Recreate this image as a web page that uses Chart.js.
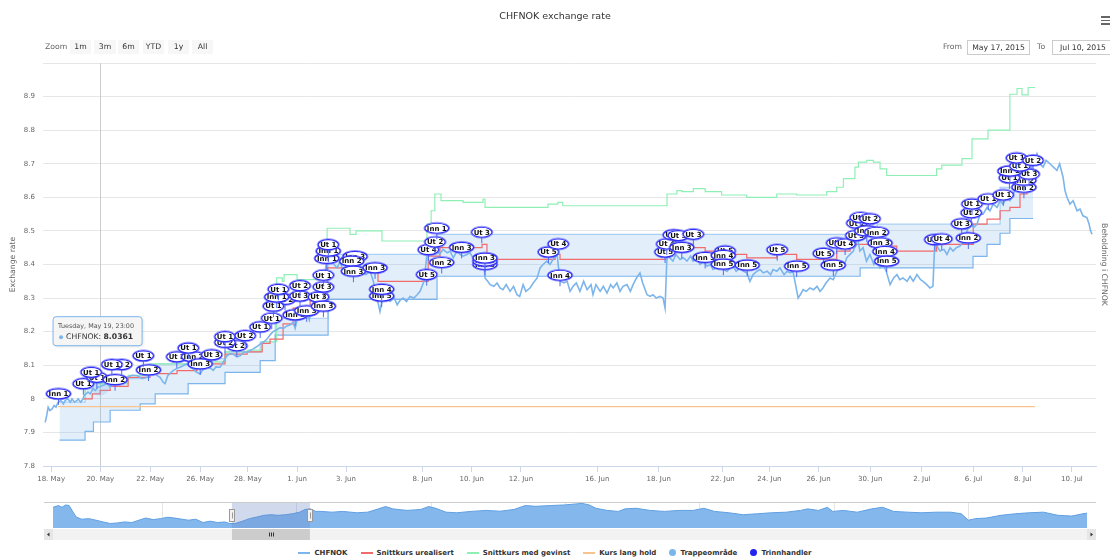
<!DOCTYPE html>
<html>
<head>
<meta charset="utf-8">
<title>CHFNOK exchange rate</title>
<script src="https://cdn.jsdelivr.net/npm/chart.js@4.4.1/dist/chart.umd.min.js"></script>
<style>
  body { margin: 0; background: #fff; font-family: "Lucida Grande", "Lucida Sans Unicode", "DejaVu Sans", sans-serif; }
  #wrap { position: relative; width: 1110px; height: 560px; overflow: hidden; }
  #main { position: absolute; left: 0; top: 0; }
  #nav { position: absolute; left: 0; top: 500px; }
  .txt { position: absolute; font-size: 7.7px; color: #666; line-height: 14px; }
  .btn { position: absolute; top: 40px; height: 14px; line-height: 14px; background: #f7f7f7; color: #333; text-align: center; font-size: 7.7px; }
  .inp { position: absolute; top: 40px; height: 13px; line-height: 13px; border: 1px solid #ccc; color: #333; font-size: 7.7px; text-align: center; background: #fff; }
  #menu { position: absolute; left: 1101px; top: 16px; width: 9px; }
  #menu div { height: 1.6px; background: #666; margin-bottom: 2px; }
  #legend { position: absolute; left: 0; top: 546px; width: 1110px; height: 13px; display: flex; justify-content: center; align-items: center; font-size: 7px; font-weight: bold; color: #333; }
  .li { display: flex; align-items: center; margin: 0 6.5px; }
  .sym { display: inline-block; width: 12px; height: 2px; margin-right: 4px; }
  .dot { display: inline-block; width: 7px; height: 7px; border-radius: 50%; margin-right: 4px; }
</style>
</head>
<body>
<div id="wrap">
  <canvas id="main" width="1110" height="495"></canvas>
  <canvas id="nav" width="1110" height="45"></canvas>

  <div class="txt" style="left:45px; top:40px;">Zoom</div>
  <div class="btn" style="left:70px; width:21px;">1m</div>
  <div class="btn" style="left:94px; width:22px;">3m</div>
  <div class="btn" style="left:118px; width:21px;">6m</div>
  <div class="btn" style="left:143px; width:21px;">YTD</div>
  <div class="btn" style="left:168px; width:21px;">1y</div>
  <div class="btn" style="left:192px; width:21px;">All</div>

  <div class="txt" style="left:943px; top:40px;">From</div>
  <div class="inp" style="left:967px; width:61px;">May 17, 2015</div>
  <div class="txt" style="left:1037px; top:40px;">To</div>
  <div class="inp" style="left:1052px; width:60px;">Jul 10, 2015</div>

  <div id="menu"><div></div><div></div><div></div></div>

  <div id="legend">
    <div class="li"><span class="sym" style="background:#7cb5ec"></span>CHFNOK</div>
    <div class="li"><span class="sym" style="background:#f26b6b"></span>Snittkurs urealisert</div>
    <div class="li"><span class="sym" style="background:#8ff0b6"></span>Snittkurs med gevinst</div>
    <div class="li"><span class="sym" style="background:#f9c38f"></span>Kurs lang hold</div>
    <div class="li"><span class="dot" style="background:#7cb5ec"></span>Trappeområde</div>
    <div class="li"><span class="dot" style="background:#2323f0"></span>Trinnhandler</div>
  </div>
</div>

<script>
// x = handelsdag-indeks, 0 = 18. mai 2015 (ordinal akse, helger hoppet over)
const xTickVals = [0, 2, 4.03, 6.06, 8, 10, 11.99, 15.1, 17.1, 19.1, 22.2, 24.7, 27.3, 29.2, 31.2, 33.3, 35.4, 37.5, 39.5, 41.5];
const xTickLabels = ['18. May', '20. May', '22. May', '26. May', '28. May', '1. Jun', '3. Jun', '8. Jun', '10. Jun', '12. Jun',
  '16. Jun', '18. Jun', '22. Jun', '24. Jun', '26. Jun', '30. Jun', '2. Jul', '6. Jul', '8. Jul', '10. Jul'];
const yTickVals = [7.8, 7.9, 8, 8.1, 8.2, 8.3, 8.4, 8.5, 8.6, 8.7, 8.8, 8.9, 9];
const yTickLabels = ['7.8', '7.9', '8', '8.1', '8.2', '8.3', '8.4', '8.5', '8.6', '8.7', '8.8', '8.9', ''];

// CHFNOK
const chfX = [-0.24, -0.18, -0.12, -0.05, 0.04, 0.12, 0.20, 0.28, 0.40, 0.50, 0.57, 0.68, 0.78, 0.85, 0.95, 1.05, 1.10, 1.20, 1.30, 1.34,
  1.42, 1.50, 1.59, 1.70, 1.80, 1.91, 1.99, 2.10, 2.28, 2.40, 2.50, 2.68, 2.85, 3.09, 3.30, 3.50, 3.70, 3.94, 4.15, 4.30,
  4.43, 4.55, 4.63, 4.75, 4.96, 5.10, 5.24, 5.40, 5.53, 5.65, 5.77, 5.90, 6.06, 6.20, 6.34, 6.50, 6.59, 6.70, 6.87, 7.00,
  7.15, 7.28, 7.40, 7.55, 7.68, 7.85, 7.97, 8.10, 8.21, 8.35, 8.50, 8.65, 8.78, 8.90, 9.02, 9.15, 9.31, 9.45, 9.59, 9.70,
  9.84, 9.92, 10.00, 10.12, 10.25, 10.41, 10.50, 10.55, 10.65, 10.80, 10.93, 11.05, 11.18, 11.25, 11.34, 11.50, 11.63, 11.75, 11.87, 12.00,
  12.15, 12.30, 12.44, 12.55, 12.68, 12.80, 12.97, 13.10, 13.25, 13.37, 13.50, 13.65, 13.78, 13.95, 14.07, 14.20, 14.31, 14.45, 14.59, 14.75,
  14.88, 15.00, 15.16, 15.28, 15.41, 15.55, 15.69, 15.80, 15.93, 16.10, 16.22, 16.35, 16.50, 16.62, 16.75, 16.90, 17.03, 17.15, 17.32, 17.45,
  17.56, 17.64, 17.75, 17.85, 18.00, 18.13, 18.25, 18.37, 18.50, 18.66, 18.80, 18.94, 19.05, 19.19, 19.30, 19.47, 19.60, 19.76, 19.88, 20.00,
  20.15, 20.28, 20.45, 20.57, 20.69, 20.85, 20.98, 21.10, 21.22, 21.35, 21.50, 21.65, 21.79, 21.95, 22.03, 22.15, 22.32, 22.45, 22.60, 22.75,
  22.85, 23.00, 23.13, 23.25, 23.41, 23.55, 23.66, 23.80, 23.94, 24.05, 24.23, 24.35, 24.47, 24.60, 24.76, 24.88, 24.96, 25.04, 25.15, 25.28,
  25.40, 25.57, 25.70, 25.85, 26.00, 26.10, 26.25, 26.38, 26.52, 26.67, 26.80, 26.91, 27.05, 27.20, 27.35, 27.48, 27.60, 27.72, 27.85, 28.01,
  28.15, 28.29, 28.41, 28.54, 28.70, 28.82, 28.95, 29.11, 29.25, 29.35, 29.50, 29.63, 29.80, 29.92, 30.05, 30.16, 30.37, 30.50, 30.57, 30.70,
  30.85, 31.00, 31.14, 31.26, 31.38, 31.50, 31.67, 31.80, 31.95, 32.10, 32.20, 32.35, 32.48, 32.62, 32.76, 32.88, 33.01, 33.15, 33.29, 33.45,
  33.58, 33.70, 33.82, 33.95, 34.11, 34.25, 34.39, 34.50, 34.63, 34.80, 34.92, 35.05, 35.20, 35.35, 35.45, 35.60, 35.73, 35.85, 35.93, 36.05,
  36.14, 36.30, 36.42, 36.55, 36.67, 36.80, 36.95, 37.10, 37.24, 37.36, 37.50, 37.64, 37.77, 37.89, 38.05, 38.17, 38.30, 38.46, 38.58, 38.70,
  38.85, 38.98, 39.10, 39.27, 39.40, 39.51, 39.65, 39.80, 39.92, 40.08, 40.20, 40.33, 40.45, 40.61, 40.75, 40.89, 41.00, 41.14, 41.22, 41.30,
  41.42, 41.55, 41.71, 41.83, 41.95, 42.11, 42.20, 42.26, 42.32];
const chfVal = [7.93, 7.95, 7.975, 7.965, 7.97, 7.98, 7.975, 7.99, 7.995, 7.985, 7.995, 8.0, 7.99, 8.0, 7.99, 7.995, 8.0, 7.99, 8.0, 8.01,
  8.015, 8.02, 8.015, 8.03, 8.025, 8.035, 8.0361, 8.04, 8.045, 8.035, 8.05, 8.06, 8.055, 8.064, 8.07, 8.069, 8.06, 8.064, 8.079, 8.07,
  8.064, 8.05, 8.045, 8.07, 8.084, 8.09, 8.094, 8.1, 8.104, 8.095, 8.089, 8.08, 8.074, 8.09, 8.094, 8.09, 8.085, 8.095, 8.094, 8.11,
  8.128, 8.135, 8.133, 8.125, 8.128, 8.14, 8.138, 8.145, 8.148, 8.155, 8.163, 8.17, 8.178, 8.19, 8.2, 8.205, 8.212, 8.21, 8.217, 8.22,
  8.227, 8.21, 8.235, 8.242, 8.245, 8.252, 8.235, 8.265, 8.27, 8.28, 8.29, 8.33, 8.40, 8.43, 8.41, 8.40, 8.39, 8.41, 8.38, 8.395,
  8.40, 8.385, 8.38, 8.395, 8.38, 8.37, 8.38, 8.35, 8.30, 8.26, 8.31, 8.30, 8.29, 8.30, 8.28, 8.295, 8.30, 8.29, 8.305, 8.30,
  8.31, 8.32, 8.35, 8.43, 8.44, 8.43, 8.44, 8.43, 8.445, 8.435, 8.44, 8.42, 8.44, 8.43, 8.425, 8.43, 8.435, 8.42, 8.43, 8.42,
  8.43, 8.36, 8.35, 8.34, 8.335, 8.345, 8.33, 8.325, 8.34, 8.32, 8.335, 8.31, 8.305, 8.34, 8.32, 8.33, 8.345, 8.36, 8.39, 8.40,
  8.41, 8.40, 8.42, 8.43, 8.35, 8.345, 8.35, 8.32, 8.335, 8.345, 8.32, 8.35, 8.325, 8.34, 8.31, 8.34, 8.32, 8.335, 8.315, 8.34,
  8.33, 8.345, 8.32, 8.335, 8.34, 8.32, 8.34, 8.36, 8.375, 8.345, 8.31, 8.305, 8.31, 8.30, 8.305, 8.30, 8.27, 8.43, 8.42, 8.41,
  8.43, 8.415, 8.42, 8.41, 8.425, 8.41, 8.42, 8.40, 8.41, 8.395, 8.40, 8.385, 8.39, 8.40, 8.385, 8.38, 8.39, 8.395, 8.38, 8.39,
  8.38, 8.375, 8.35, 8.37, 8.38, 8.385, 8.375, 8.38, 8.37, 8.385, 8.38, 8.39, 8.37, 8.38, 8.375, 8.38, 8.30, 8.315, 8.325, 8.32,
  8.33, 8.325, 8.335, 8.32, 8.33, 8.345, 8.36, 8.355, 8.38, 8.40, 8.39, 8.42, 8.43, 8.44, 8.49, 8.44, 8.45, 8.41, 8.43, 8.40,
  8.41, 8.39, 8.40, 8.38, 8.34, 8.36, 8.37, 8.355, 8.36, 8.35, 8.365, 8.35, 8.37, 8.355, 8.35, 8.34, 8.33, 8.335, 8.47, 8.45,
  8.44, 8.445, 8.43, 8.45, 8.44, 8.45, 8.455, 8.47, 8.50, 8.53, 8.51, 8.52, 8.55, 8.55, 8.57, 8.56, 8.58, 8.57, 8.59, 8.58,
  8.60, 8.59, 8.61, 8.63, 8.62, 8.65, 8.64, 8.67, 8.70, 8.73, 8.70, 8.69, 8.71, 8.70, 8.69, 8.68, 8.70, 8.66, 8.62, 8.60,
  8.58, 8.59, 8.56, 8.565, 8.545, 8.54, 8.52, 8.50, 8.49];

// Snittkurs urealisert (trapp)
const redX = [1.30, 1.67, 1.99, 2.40, 3.13, 4.02, 5.12, 5.93, 7.07, 7.97, 8.58, 8.90, 9.43, 9.84, 10.53, 11.22, 13.29, 15.33, 15.81, 17.52,
  17.72, 20.49, 20.69, 25.04, 26.11, 26.59, 27.26, 28.28, 29.50, 30.31, 31.94, 32.48, 32.68, 33.29, 34.38, 36.00, 37.49, 38.05, 38.58, 38.98,
  39.39, 39.67, 40.00];
const redVal = [8.00, 8.015, 8.025, 8.037, 8.064, 8.075, 8.084, 8.104, 8.133, 8.14, 8.165, 8.178, 8.223, 8.27, 8.30, 8.39, 8.35, 8.425, 8.45, 8.46,
  8.415, 8.43, 8.415, 8.46, 8.45, 8.44, 8.43, 8.42, 8.43, 8.415, 8.44, 8.45, 8.46, 8.455, 8.44, 8.46, 8.52, 8.535, 8.56, 8.57,
  8.61, 8.655, 8.655];

// Snittkurs med gevinst (trapp)
const grnX = [1.30, 1.38, 2.10, 3.13, 4.02, 5.12, 5.93, 7.07, 7.97, 8.58, 9.17, 9.40, 9.47, 10.00, 11.22, 12.15, 12.40, 13.45, 15.28, 15.45,
  15.60, 15.85, 16.75, 17.56, 17.64, 20.20, 20.60, 20.80, 25.04, 25.44, 25.64, 26.11, 26.59, 27.26, 28.28, 29.50, 30.31, 31.53, 31.94, 32.21,
  32.68, 32.82, 33.16, 33.43, 33.70, 33.97, 36.00, 36.21, 37.03, 37.44, 38.09, 38.98, 39.27, 39.47, 39.72, 40.00];
const grnVal = [8.00, 8.045, 8.045, 8.07, 8.104, 8.104, 8.11, 8.14, 8.145, 8.17, 8.36, 8.35, 8.37, 8.355, 8.508, 8.49, 8.50, 8.47, 8.52, 8.56,
  8.61, 8.59, 8.585, 8.595, 8.57, 8.58, 8.585, 8.575, 8.61, 8.62, 8.617, 8.626, 8.617, 8.607, 8.60, 8.61, 8.607, 8.617, 8.63, 8.656,
  8.69, 8.705, 8.71, 8.705, 8.685, 8.665, 8.685, 8.696, 8.715, 8.774, 8.80, 8.907, 8.924, 8.905, 8.927, 8.927];

// Kurs lang hold
const holdX = [0.28, 40.0];
const holdVal = [7.977, 7.977];

// Trappeområde (nedre og øvre grense)
const trapX = [0.34, 1.38, 1.72, 2.40, 3.62, 4.23, 5.57, 7.07, 8.50, 9.11, 11.26, 15.69, 32.89, 33.58, 37.48, 38.05, 38.58, 38.98, 39.92];
const trapLow = [7.877, 7.903, 7.931, 7.966, 7.985, 8.015, 8.045, 8.079, 8.114, 8.19, 8.296, 8.365, 8.39, 8.39, 8.424, 8.46, 8.493, 8.537, 8.537];
const trapHigh = [7.99, 8.03, 8.05, 8.06, 8.08, 8.104, 8.12, 8.14, 8.17, 8.24, 8.43, 8.49, 8.49, 8.52, 8.52, 8.52, 8.63, 8.63, 8.63];

// Trinnhandler
const flagX = [0.30, 1.31, 1.86, 1.63, 2.60, 2.87, 2.47, 3.96, 3.75, 5.11, 5.79, 5.58, 6.06, 6.53, 7.55, 7.07, 7.07, 7.89, 8.50, 8.97,
  9.92, 10.39, 9.51, 9.04, 9.17, 9.24, 10.12, 10.12, 10.87, 11.07, 11.07, 11.07, 11.21, 11.27, 11.27, 12.36, 12.22, 12.29, 13.17, 13.44,
  13.44, 15.27, 15.88, 15.34, 15.61, 15.68, 16.69, 17.51, 17.64, 17.64, 17.64, 20.22, 20.62, 20.69, 24.96, 25.03, 25.30, 25.50, 25.64, 26.11,
  26.59, 27.40, 27.33, 27.33, 28.30, 29.52, 30.31, 31.40, 31.80, 31.94, 32.28, 32.72, 32.76, 32.90, 33.29, 33.16, 33.56, 33.70, 33.90, 33.97,
  35.93, 36.21, 37.29, 37.02, 37.41, 37.44, 38.10, 38.71, 39.55, 39.55, 38.96, 39.76, 38.98, 39.39, 39.25, 39.92];
const flagY = [8.015, 8.045, 8.064, 8.079, 8.057, 8.102, 8.102, 8.086, 8.128, 8.125, 8.125, 8.151, 8.104, 8.131, 8.158, 8.168, 8.185, 8.188, 8.214, 8.24,
  8.25, 8.262, 8.296, 8.276, 8.303, 8.326, 8.306, 8.337, 8.303, 8.276, 8.333, 8.368, 8.418, 8.44, 8.459, 8.424, 8.41, 8.38, 8.39, 8.306,
  8.326, 8.37, 8.406, 8.444, 8.467, 8.508, 8.451, 8.496, 8.40, 8.41, 8.419, 8.437, 8.461, 8.368, 8.437, 8.461, 8.488, 8.486, 8.451, 8.49,
  8.421, 8.44, 8.427, 8.401, 8.398, 8.444, 8.395, 8.433, 8.398, 8.464, 8.461, 8.486, 8.523, 8.54, 8.536, 8.50, 8.496, 8.464, 8.439, 8.41,
  8.474, 8.476, 8.479, 8.521, 8.554, 8.58, 8.595, 8.607, 8.63, 8.651, 8.658, 8.669, 8.678, 8.693, 8.717, 8.71];
const flagText = ['Inn 1', 'Ut 1', 'Ut 1', 'Ut 1', 'Inn 2', 'Ut 2', 'Ut 1', 'Inn 2', 'Ut 1', 'Ut 2', 'Inn 2', 'Ut 1', 'Inn 3', 'Ut 3', 'Ut 2', 'Ut 2', 'Ut 1', 'Ut 2', 'Ut 1', 'Ut 1',
  'Inn 3', 'Inn 3', 'Ut 2', 'Ut 1', 'Inn 1', 'Ut 1', 'Ut 3', 'Ut 2', 'Ut 3', 'Inn 3', 'Ut 3', 'Ut 1', 'Inn 1', 'Inn 1', 'Ut 1', 'Inn 3', 'Inn 2', 'Inn 3', 'Inn 3', 'Inn 5',
  'Inn 4', 'Ut 5', 'Inn 2', 'Ut 4', 'Ut 2', 'Inn 1', 'Inn 3', 'Ut 3', 'Inn 3', 'Inn 3', 'Inn 3', 'Ut 5', 'Ut 4', 'Inn 4', 'Ut 5', 'Ut 4', 'Ut 3', 'Ut 3', 'Inn 3', 'Ut 3',
  'Inn 3', 'Ut 5', 'Inn 4', 'Inn 5', 'Inn 5', 'Ut 5', 'Inn 5', 'Ut 5', 'Inn 5', 'Ut 5', 'Ut 4', 'Ut 3', 'Ut 2', 'Ut 1', 'Ut 2', 'Inn 2', 'Inn 2', 'Inn 3', 'Inn 4', 'Inn 5',
  'Ut 5', 'Ut 4', 'Inn 2', 'Ut 3', 'Ut 2', 'Ut 1', 'Ut 1', 'Ut 1', 'Inn 2', 'Inn 2', 'Ut 1', 'Ut 3', 'Inn 1', 'Ut 1', 'Ut 1', 'Ut 2'];

// tooltip-punktet
const tipX = 1.99;
const tipVal = 8.0361;
const tipHeader = 'Tuesday, May 19, 23:00';

// navigator: x = måneder fra 1. jan 2015
const navX = [0.55, 0.67, 0.75, 0.83, 0.91, 1.0, 1.07, 1.19, 1.35, 1.51, 1.67, 1.83, 1.99, 2.15, 2.31, 2.47, 2.62, 2.79, 2.95, 3.11,
  3.27, 3.43, 3.58, 3.74, 3.90, 4.06, 4.23, 4.39, 4.5, 4.62, 4.78, 4.94, 5.10, 5.26, 5.42, 5.58, 5.74, 5.90, 6.06, 6.18,
  6.30, 6.42, 6.54, 6.78, 7.02, 7.34, 7.58, 7.82, 7.98, 8.14, 8.46, 8.77, 8.94, 9.10, 9.33, 9.57, 9.89, 10.22, 10.54, 10.85,
  11.10, 11.34, 11.66, 11.97, 12.37, 12.53, 12.68, 12.93, 13.18, 13.33, 13.58, 13.89, 14.21, 14.53, 14.85, 15.09, 15.33, 15.65, 15.97, 16.29,
  16.60, 16.93, 17.25, 17.41, 17.65, 17.85, 17.97, 18.21, 18.52, 18.84, 19.08, 19.33, 19.64, 19.96, 20.28, 20.60, 20.84, 21.0, 21.16, 21.40,
  21.73, 22.05, 22.36, 22.68, 23.0, 23.31, 23.56, 23.65];
const navVal = [8.78, 8.87, 8.78, 8.9, 8.87, 8.53, 8.28, 8.17, 8.2, 8.12, 8.03, 7.95, 7.98, 8.03, 8.0, 8.12, 8.23, 8.15, 8.2, 8.27,
  8.23, 8.17, 8.12, 8.17, 8.0, 8.07, 8.0, 8.03, 7.95, 7.95, 8.07, 8.2, 8.28, 8.37, 8.4, 8.37, 8.4, 8.45, 8.53, 8.67,
  8.7, 8.57, 8.57, 8.53, 8.57, 8.5, 8.53, 8.7, 8.82, 8.7, 8.62, 8.67, 8.82, 8.73, 8.53, 8.5, 8.57, 8.62, 8.58, 8.67,
  8.87, 8.83, 8.87, 8.9, 8.98, 8.9, 8.73, 8.62, 8.57, 8.7, 8.73, 8.62, 8.57, 8.62, 8.62, 8.73, 8.57, 8.5, 8.4, 8.45,
  8.5, 8.53, 8.62, 8.7, 8.62, 8.78, 8.57, 8.62, 8.53, 8.7, 8.78, 8.57, 8.53, 8.5, 8.53, 8.53, 8.45, 8.12, 8.2, 8.23,
  8.37, 8.45, 8.5, 8.53, 8.37, 8.33, 8.45, 8.48];
const navTickVals = [3, 6, 9, 12, 15, 18, 21];
const navTickLabels = ["Apr '15", "Jul '15", "Oct '15", "Jan '16", "Apr '16", "Jul '16", "Oct '16"];
const selFrom = 4.548;
const selTo = 6.29;

Chart.defaults.font.family = '"Lucida Grande", "Lucida Sans Unicode", "DejaVu Sans", sans-serif';

function toPts(xs, ys) {
    return xs.map((x, i) => ({ x: x, y: ys[i] }));
}

function drawFlag(ctx, x, y, text) {
    ctx.font = 'bold 7px "DejaVu Sans"';
    const tw = ctx.measureText(text).width;
    const rx = tw / 2 + 2;
    const ry = 5;
    ctx.strokeStyle = '#4d6bef';
    ctx.lineWidth = 1;
    ctx.beginPath();
    ctx.moveTo(x, y + ry);
    ctx.lineTo(x, y + 11);
    ctx.stroke();
    ctx.beginPath();
    ctx.ellipse(x, y, rx + 1, ry + 1, 0, 0, Math.PI * 2);
    ctx.strokeStyle = 'rgba(90,90,255,0.6)';
    ctx.stroke();
    ctx.beginPath();
    ctx.ellipse(x, y, rx, ry, 0, 0, Math.PI * 2);
    ctx.fillStyle = '#fff';
    ctx.fill();
    ctx.strokeStyle = '#2f2ff5';
    ctx.lineWidth = 1.2;
    ctx.stroke();
    ctx.fillStyle = '#111';
    ctx.textAlign = 'center';
    ctx.textBaseline = 'middle';
    ctx.fillText(text, x, y + 0.5);
}

const markPlugin = {
    id: 'marks',
    beforeDatasetsDraw(chart) {
        const { ctx, chartArea, scales } = chart;
        const px = Math.round(scales.x.getPixelForValue(tipX)) + 0.5;
        ctx.save();
        ctx.strokeStyle = '#cccccc';
        ctx.lineWidth = 1;
        ctx.beginPath();
        ctx.moveTo(px, chartArea.top);
        ctx.lineTo(px, chartArea.bottom);
        ctx.stroke();
        ctx.restore();
    },
    afterDatasetsDraw(chart) {
        const ctx = chart.ctx;
        ctx.save();
        // halo rundt hover-punktet
        const px = chart.scales.x.getPixelForValue(tipX);
        const py = chart.scales.y.getPixelForValue(tipVal);
        ctx.fillStyle = 'rgba(124,181,236,0.25)';
        ctx.beginPath();
        ctx.arc(px, py, 9, 0, Math.PI * 2);
        ctx.fill();
        // flagg
        const meta = chart.getDatasetMeta(6);
        meta.data.forEach((pt, i) => drawFlag(ctx, pt.x, pt.y, flagText[i]));
        ctx.restore();
    },
    afterDraw(chart) {
        const ctx = chart.ctx;
        const px = chart.scales.x.getPixelForValue(tipX);
        const py = chart.scales.y.getPixelForValue(tipVal);
        const bx = px - 47, by = py - 70, bw = 89, bh = 29;
        ctx.save();
        ctx.shadowColor = 'rgba(0,0,0,0.15)';
        ctx.shadowOffsetX = 1;
        ctx.shadowOffsetY = 1;
        ctx.shadowBlur = 3;
        ctx.fillStyle = 'rgba(247,247,247,0.9)';
        ctx.beginPath();
        ctx.roundRect(bx, by, bw, bh, 3);
        ctx.fill();
        ctx.shadowColor = 'transparent';
        ctx.strokeStyle = '#7cb5ec';
        ctx.lineWidth = 1;
        ctx.stroke();
        ctx.textBaseline = 'middle';
        ctx.textAlign = 'left';
        ctx.fillStyle = '#555';
        ctx.font = '6.4px "DejaVu Sans"';
        ctx.fillText(tipHeader, bx + 5, by + 10);
        ctx.fillStyle = '#7cb5ec';
        ctx.beginPath();
        ctx.arc(bx + 8, by + 20.5, 2, 0, Math.PI * 2);
        ctx.fill();
        ctx.fillStyle = '#333';
        ctx.font = '7.7px "DejaVu Sans"';
        const lab = 'CHFNOK: ';
        ctx.fillText(lab, bx + 13, by + 20.5);
        const w = ctx.measureText(lab).width;
        ctx.font = 'bold 7.7px "DejaVu Sans"';
        ctx.fillText(tipVal.toFixed(4), bx + 13 + w, by + 20.5);
        ctx.restore();
    }
};

// stepped: 'before' = verdien holder seg frem til neste punkt
var main = new Chart(document.getElementById('main'), {
    type: 'line',
    data: {
        datasets: [
            { label: 'CHFNOK', data: toPts(chfX, chfVal), borderColor: '#7cb5ec', borderWidth: 1.6, pointRadius: 0 },
            { label: 'Snittkurs urealisert', data: toPts(redX, redVal), borderColor: '#f26b6b', borderWidth: 1.2, pointRadius: 0, stepped: 'before' },
            { label: 'Snittkurs med gevinst', data: toPts(grnX, grnVal), borderColor: '#8ff0b6', borderWidth: 1.2, pointRadius: 0, stepped: 'before' },
            { label: 'Kurs lang hold', data: toPts(holdX, holdVal), borderColor: '#f9c38f', borderWidth: 1.2, pointRadius: 0 },
            { label: 'Trappeområde lav', data: toPts(trapX, trapLow), borderColor: '#7cb5ec', borderWidth: 1.2, pointRadius: 0, stepped: 'before' },
            { label: 'Trappeområde', data: toPts(trapX, trapHigh), borderColor: 'rgba(124,181,236,0.6)', borderWidth: 1.2, pointRadius: 0, stepped: 'before',
              fill: '-1', backgroundColor: 'rgba(124,181,236,0.22)' },
            { label: 'Trinnhandler', type: 'scatter', data: toPts(flagX, flagY), pointRadius: 0, showLine: false }
        ]
    },
    options: {
        responsive: false,
        animation: false,
        devicePixelRatio: 1,
        layout: { padding: 0 },
        plugins: {
            legend: { display: false },
            tooltip: { enabled: false },
            title: {
                display: true,
                text: 'CHFNOK exchange rate',
                color: '#333',
                font: { size: 9.5, weight: 'normal' },
                padding: { top: 11, bottom: 40.6 }
            }
        },
        scales: {
            x: {
                type: 'linear',
                min: -0.33,
                max: 42.48,
                afterBuildTicks: s => { s.ticks = xTickVals.map(v => ({ value: v })); },
                afterFit: s => { s.height = 29; },
                ticks: { callback: (v, i) => xTickLabels[i], autoSkip: false, maxRotation: 0, color: '#666', font: { size: 7 }, padding: 3 },
                grid: { drawOnChartArea: false, tickLength: 6, color: '#ccd6eb' },
                border: { color: '#ccd6eb' }
            },
            y: {
                position: 'left',
                min: 7.8,
                max: 9.0,
                afterBuildTicks: s => { s.ticks = yTickVals.map(v => ({ value: v })); },
                afterFit: s => { s.width = 43; },
                ticks: { callback: (v, i) => yTickLabels[i], color: '#666', font: { size: 7 }, padding: 8 },
                grid: { color: '#e6e6e6', drawTicks: false },
                border: { display: false },
                title: { display: true, text: 'Exchange rate', color: '#666', font: { size: 7.7 }, padding: { top: 8, bottom: 0 } }
            },
            y2: {
                position: 'right',
                afterFit: s => { s.width = 14; },
                grid: { display: false },
                ticks: { display: false },
                border: { display: false },
                title: { display: true, text: 'Beholdning i CHFNOK', color: '#666', font: { size: 7.7 }, padding: { top: 1.5, bottom: 0 } }
            }
        }
    },
    plugins: [markPlugin]
});

const navPlugin = {
    id: 'navChrome',
    afterDraw(chart) {
        const { ctx, chartArea, scales } = chart;
        const x0 = scales.x.getPixelForValue(selFrom);
        const x1 = scales.x.getPixelForValue(selTo);
        const top = chartArea.top, bot = chartArea.bottom;
        const left = chartArea.left - 9, right = chartArea.right + 9;
        ctx.save();
        // markert område
        ctx.fillStyle = 'rgba(102,133,194,0.3)';
        ctx.fillRect(x0, top, x1 - x0, bot - top);
        // omriss
        ctx.strokeStyle = '#cccccc';
        ctx.lineWidth = 1;
        ctx.beginPath();
        ctx.moveTo(left, top - 0.5);
        ctx.lineTo(right, top - 0.5);
        ctx.stroke();
        // håndtak
        [x0, x1].forEach(hx => {
            const hy = (top + bot) / 2 - 6;
            ctx.fillStyle = '#f2f2f2';
            ctx.strokeStyle = '#999';
            ctx.fillRect(Math.round(hx) - 2.5, hy, 5, 12);
            ctx.strokeRect(Math.round(hx) - 2.5, hy, 5, 12);
            ctx.beginPath();
            ctx.moveTo(Math.round(hx) + 0.5, hy + 3);
            ctx.lineTo(Math.round(hx) + 0.5, hy + 9);
            ctx.stroke();
        });
        // rullefelt
        const sy = bot + 1, sh = 11;
        ctx.fillStyle = '#f2f2f2';
        ctx.fillRect(left, sy, right - left, sh);
        ctx.fillStyle = '#e6e6e6';
        ctx.fillRect(left, sy, 9, sh);
        ctx.fillRect(right - 9, sy, 9, sh);
        ctx.fillStyle = '#333';
        ctx.beginPath();
        ctx.moveTo(left + 3, sy + sh / 2);
        ctx.lineTo(left + 5.5, sy + sh / 2 - 2);
        ctx.lineTo(left + 5.5, sy + sh / 2 + 2);
        ctx.fill();
        ctx.beginPath();
        ctx.moveTo(right - 3, sy + sh / 2);
        ctx.lineTo(right - 5.5, sy + sh / 2 - 2);
        ctx.lineTo(right - 5.5, sy + sh / 2 + 2);
        ctx.fill();
        ctx.fillStyle = '#cccccc';
        ctx.fillRect(x0, sy, x1 - x0, sh);
        ctx.strokeStyle = '#333';
        const cx = Math.round((x0 + x1) / 2);
        for (let k = -2; k <= 2; k += 2) {
            ctx.beginPath();
            ctx.moveTo(cx + k + 0.5, sy + 3.5);
            ctx.lineTo(cx + k + 0.5, sy + sh - 3.5);
            ctx.stroke();
        }
        ctx.restore();
    }
};

var nav = new Chart(document.getElementById('nav'), {
    type: 'line',
    data: {
        datasets: [{
            label: 'CHFNOK',
            data: toPts(navX, navVal),
            borderColor: '#5f9fe2',
            borderWidth: 1,
            backgroundColor: '#84b8ec',
            fill: 'start',
            pointRadius: 0
        }]
    },
    options: {
        responsive: false,
        animation: false,
        devicePixelRatio: 1,
        layout: { padding: { left: 53, right: 23, top: 3, bottom: 17 } },
        plugins: { legend: { display: false }, tooltip: { enabled: false } },
        scales: {
            x: {
                type: 'linear',
                min: navX[0],
                max: navX[navX.length - 1],
                z: 1,
                afterBuildTicks: s => { s.ticks = navTickVals.map(v => ({ value: v })); },
                afterFit: s => { s.height = 0; },
                ticks: { callback: (v, i) => navTickLabels[i], align: 'start', labelOffset: 3, padding: -10, color: '#999', font: { size: 7 }, maxRotation: 0, autoSkip: false },
                grid: { color: '#e6e6e6', drawTicks: false },
                border: { display: false }
            },
            y: { display: false, min: 7.72, max: 9.0 }
        }
    },
    plugins: [navPlugin]
});
</script>
</body>
</html>
